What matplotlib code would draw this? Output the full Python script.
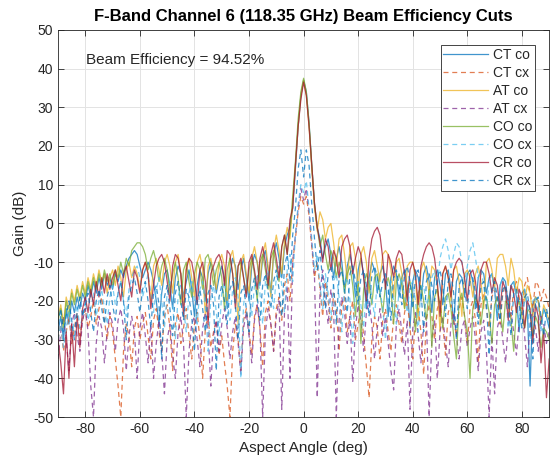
import numpy as np
import matplotlib
matplotlib.use("Agg")
import matplotlib.pyplot as plt

plt.rcParams['font.family'] = ['Liberation Sans', 'DejaVu Sans']
plt.rcParams['axes.unicode_minus'] = False

angles = list(range(-90, 91))

ct_co = [
    -28,-24,-30,-22,-26,-20,-23,-19,-22,-18,
    -20,-16,-19,-15,-18,-14,-17,-13,-16,-14,
    -17,-13,-15,-12,-14,-11,-9,-8,-7,-8,
    -11,-14,-12,-10,-12,-15,-20,-26,-18,-13,
    -12,-16,-22,-14,-11,-13,-19,-15,-12,-17,
    -24,-16,-12,-14,-20,-13,-10,-12,-18,-14,
    -11,-14,-22,-13,-9,-11,-17,-12,-9,-14,
    -20,-11,-8,-10,-16,-9,-7,-12,-18,-8,
    -5,-9,-14,-6,-3,-1,4,14,25,33,
    37,34,26,15,5,-1,-4,-9,-6,-4,
    -8,-14,-9,-6,-10,-17,-11,-8,-12,-19,
    -12,-9,-13,-22,-14,-10,-12,-18,-13,-11,
    -15,-24,-14,-11,-13,-19,-14,-12,-16,-27,
    -15,-12,-14,-20,-13,-11,-15,-23,-14,-12,
    -16,-21,-13,-12,-17,-26,-15,-13,-14,-19,
    -13,-12,-15,-22,-14,-12,-13,-18,-14,-13,
    -17,-25,-16,-14,-15,-21,-16,-15,-19,-28,
    -18,-17,-22,-42,-21,-19,-20,-26,-22,-24,
    -27]

ct_cx = [
    -30,-26,-33,-28,-24,-31,-27,-23,-29,-25,
    -22,-27,-24,-20,-26,-22,-19,-25,-30,-24,
    -28,-35,-42,-50,-33,-26,-29,-37,-27,-24,
    -30,-26,-23,-29,-35,-25,-22,-28,-33,-24,
    -21,-27,-38,-26,-23,-31,-27,-22,-29,-35,
    -26,-23,-30,-40,-27,-24,-32,-28,-25,-34,
    -29,-36,-42,-50,-33,-26,-30,-38,-25,-22,
    -28,-34,-24,-21,-27,-37,-23,-20,-26,-33,
    -22,-19,-25,-16,-13,-20,-10,-4,3,7,
    5,7,2,-6,-14,-10,-17,-24,-15,-20,
    -27,-18,-22,-33,-21,-19,-28,-24,-20,-30,
    -26,-22,-29,-37,-45,-30,-24,-27,-35,-25,
    -22,-28,-33,-24,-21,-26,-31,-23,-20,-27,
    -35,-24,-22,-28,-39,-25,-21,-24,-30,-22,
    -20,-26,-34,-23,-21,-25,-29,-22,-19,-24,
    -31,-22,-20,-25,-36,-21,-18,-22,-27,-19,
    -17,-21,-26,-18,-16,-20,-24,-17,-15,-19,
    -23,-16,-14,-18,-22,-15,-16,-20,-17,-19,
    -22]

at_co = [
    -24,-21,-26,-19,-22,-17,-20,-16,-19,-15,
    -18,-14,-17,-13,-16,-12,-15,-13,-18,-14,
    -12,-16,-11,-14,-19,-12,-10,-14,-11,-13,
    -17,-12,-10,-13,-20,-11,-9,-12,-16,-10,
    -8,-11,-18,-10,-8,-13,-21,-11,-9,-14,
    -19,-10,-8,-12,-24,-11,-9,-13,-17,-10,
    -8,-11,-20,-9,-7,-12,-26,-10,-8,-13,
    -18,-9,-6,-10,-15,-8,-5,-11,-19,-7,
    -3,-7,-13,-5,-1,-4,5,15,25,33,
    37,33,25,14,4,-2,3,1,-4,-1,
    0,-5,-11,-4,-3,-8,-15,-6,-5,-9,
    -17,-8,-6,-10,-18,-9,-7,-11,-15,-8,
    -7,-8,-12,-19,-10,-9,-13,-22,-11,-10,
    -10,-14,-25,-12,-10,-13,-18,-11,-12,-16,
    -28,-13,-11,-14,-20,-12,-11,-15,-24,-13,
    -12,-14,-19,-13,-11,-15,-22,-10,-9,-12,
    -17,-9,-8,-8,-11,-16,-9,-12,-18,-14,
    -15,-20,-16,-18,-24,-19,-20,-26,-21,-23,
    -25]

at_cx = [
    -35,-28,-24,-30,-38,-26,-23,-29,-33,-25,
    -22,-28,-42,-50,-31,-24,-27,-36,-28,-23,
    -26,-33,-25,-22,-27,-38,-29,-24,-28,-40,
    -27,-23,-29,-36,-26,-40,-31,-25,-33,-44,
    -30,-26,-34,-40,-28,-24,-31,-50,-33,-26,
    -24,-30,-37,-27,-23,-28,-42,-29,-25,-33,
    -26,-22,-27,-35,-28,-24,-31,-39,-27,-23,
    -29,-36,-25,-21,-27,-50,-28,-22,-26,-33,
    -24,-20,-48,-23,-16,-40,-10,-3,4,9,
    6,9,3,-5,-14,-45,-18,-12,-20,-26,
    -17,-22,-50,-25,-19,-23,-31,-24,-41,-27,
    -21,-25,-33,-23,-20,-26,-35,-27,-22,-29,
    -24,-31,-38,-43,-26,-22,-28,-34,-25,-48,
    -27,-23,-29,-36,-26,-24,-50,-30,-25,-40,
    -28,-24,-31,-37,-26,-23,-29,-35,-27,-25,
    -32,-27,-24,-30,-38,-28,-25,-33,-50,-29,
    -44,-27,-24,-30,-36,-26,-23,-28,-34,-25,
    -23,-29,-37,-26,-22,-27,-33,-24,-26,-31,
    -28]

co_co = [
    -25,-22,-27,-20,-24,-18,-21,-17,-20,-16,
    -19,-15,-18,-14,-17,-13,-16,-12,-15,-13,
    -16,-12,-14,-10,-13,-9,-11,-7,-6,-5,
    -5,-6,-8,-12,-9,-7,-10,-15,-11,-9,
    -12,-18,-13,-10,-14,-21,-12,-10,-15,-19,
    -13,-10,-12,-17,-9,-8,-11,-16,-12,-10,
    -14,-22,-12,-9,-13,-19,-11,-10,-14,-18,
    -12,-9,-13,-20,-10,-8,-12,-17,-9,-7,
    -11,-15,-6,-3,-8,-2,7,16,27,34,
    37.5,34,26,15,5,-1,-6,-3,-8,-12,
    -7,-9,-14,-10,-12,-18,-13,-11,-16,-24,
    -15,-31,-17,-13,-15,-21,-14,-13,-18,-23,
    -16,-14,-17,-26,-15,-13,-16,-22,-17,-15,
    -19,-28,-18,-16,-20,-25,-17,-32,-19,-17,
    -21,-27,-19,-18,-22,-29,-35,-20,-18,-24,
    -28,-40,-22,-19,-21,-26,-20,-19,-23,-31,
    -21,-19,-22,-28,-20,-21,-25,-33,-22,-20,
    -24,-27,-22,-23,-29,-24,-26,-32,-27,-28,
    -30]

co_cx = [
    -30,-26,-32,-27,-23,-29,-25,-21,-27,-24,
    -20,-25,-22,-18,-24,-20,-17,-22,-26,-19,
    -16,-21,-18,-15,-20,-24,-17,-14,-12,-11,
    -14,-19,-16,-13,-18,-23,-17,-14,-20,-27,
    -18,-15,-21,-30,-19,-16,-22,-28,-18,-15,
    -20,-26,-17,-15,-21,-33,-19,-16,-23,-29,
    -18,-15,-20,-25,-17,-14,-19,-40,-21,-16,
    -19,-24,-16,-13,-18,-26,-15,-12,-17,-22,
    -14,-11,-16,-23,-12,-8,-15,-3,5,10,
    8,11,4,-4,-12,-8,-16,-22,-13,-18,
    -25,-15,-13,-19,-28,-16,-14,-20,-31,-17,
    -15,-21,-27,-16,-14,-19,-24,-15,-17,-22,
    -30,-18,-15,-20,-26,-17,-14,-19,-23,-16,
    -15,-20,-28,-17,-16,-21,-19,-14,-12,-16,
    -9,-6,-4,-7,-12,-8,-5,-6,-10,-15,
    -11,-7,-5,-9,-14,-12,-16,-22,-15,-13,
    -17,-24,-16,-14,-18,-27,-17,-15,-19,-26,
    -18,-17,-21,-30,-20,-19,-23,-28,-22,-24,
    -26]

cr_co = [
    -30,-36,-44,-28,-40,-26,-37,-24,-32,-22,
    -19,-23,-17,-21,-15,-19,-14,-18,-13,-17,
    -14,-12,-16,-20,-13,-11,-15,-19,-12,-14,
    -18,-12,-10,-13,-22,-16,-11,-9,-8,-10,
    -15,-20,-11,-8,-9,-13,-24,-12,-9,-10,
    -14,-21,-12,-10,-15,-26,-13,-11,-9,-8,
    -10,-16,-7,-8,-13,-22,-11,-9,-14,-19,
    -10,-8,-12,-17,-9,-6,-10,-16,-8,-5,
    -9,-14,-6,-3,-8,1,4,15,25,32,
    36.5,33,25,15,5,-1,-5,-10,-4,-6,
    -12,-7,-9,-14,-6,-4,-3,-6,-13,-9,
    -6,-8,-14,-20,-9,-4,-2,-1,-3,-9,
    -17,-8,-10,-14,-9,-7,-8,-13,-20,-12,
    -10,-13,-21,-11,-8,-6,-5,-6,-9,-15,
    -24,-13,-11,-14,-19,-12,-10,-9,-10,-14,
    -20,-13,-12,-15,-23,-12,-10,-10,-13,-18,
    -14,-16,-22,-15,-17,-25,-16,-18,-23,-17,
    -19,-27,-20,-22,-31,-21,-24,-36,-28,-45,
    -35]

cr_cx = [
    -26,-22,-28,-24,-20,-25,-30,-23,-19,-24,
    -21,-18,-23,-28,-20,-17,-22,-26,-19,-16,
    -21,-25,-18,-15,-20,-30,-19,-16,-14,-18,
    -23,-17,-15,-20,-27,-18,-16,-21,-35,-19,
    -16,-22,-29,-18,-15,-20,-25,-17,-19,-24,
    -33,-20,-17,-22,-28,-18,-16,-21,-38,-19,
    -16,-20,-26,-17,-15,-21,-30,-18,-16,-22,
    -28,-17,-14,-19,-25,-16,-13,-18,-22,-15,
    -12,-17,-24,-11,-8,-15,-3,4,14,19,
    12,19,15,5,-4,-12,-7,-15,-22,-13,
    -11,-16,-26,-14,-12,-17,-23,-13,-11,-15,
    -21,-14,-12,-16,-24,-13,-11,-14,-19,-15,
    -13,-17,-25,-14,-12,-16,-21,-13,-11,-15,
    -22,-14,-12,-17,-28,-15,-13,-16,-20,-14,
    -12,-16,-24,-15,-13,-18,-30,-16,-14,-17,
    -22,-15,-14,-18,-26,-16,-15,-20,-34,-17,
    -15,-19,-25,-17,-16,-20,-29,-18,-17,-21,
    -27,-19,-18,-23,-35,-20,-19,-24,-29,-22,
    -25]

labels = ["CT co", "CT cx", "AT co", "AT cx", "CO co", "CO cx", "CR co", "CR cx"]
series = [ct_co, ct_cx, at_co, at_cx, co_co, co_cx, cr_co, cr_cx]
colors = ["#0072BD", "#D95319", "#EDB120", "#7E2F8E", "#77AC30", "#4DBEEE", "#A2142F", "#0072BD"]
styles = ["-", "--", "-", "--", "-", "--", "-", "--"]

title = "F-Band Channel 6 (118.35 GHz) Beam Efficiency Cuts"
annotation = "Beam Efficiency = 94.52%"

fig = plt.figure(figsize=(5.5, 4.66), dpi=100)
ax = fig.add_axes([0.1055, 0.105, 0.893, 0.831])

for y, lab, c, ls in zip(series, labels, colors, styles):
    ax.plot(angles, y, color=c, linestyle=ls, linewidth=0.9, alpha=0.75, label=lab,
            dashes=(4, 3) if ls == "--" else (None, None))

ax.set_xlim(-90, 90)
ax.set_ylim(-50, 50)
ax.set_xticks(range(-80, 81, 20))
ax.set_yticks(range(-50, 51, 10))
ax.grid(True, color="#e3e3e3", linewidth=0.7)
ax.set_axisbelow(True)
ax.tick_params(direction="in", top=True, right=True, labelsize=10, colors="#262626", length=4, width=0.6)
for s in ax.spines.values():
    s.set_color("#262626")
    s.set_linewidth(0.6)

ax.set_title(title, fontsize=12, fontweight="bold", pad=6)
ax.set_xlabel("Aspect Angle (deg)", fontsize=11, color="#262626")
ax.set_ylabel("Gain (dB)", fontsize=11, color="#262626")
ax.text(-79.7, 42.2, annotation, fontsize=11, va="center", ha="left", color="#262626")

leg = ax.legend(loc="upper right", bbox_to_anchor=(0.971, 0.961), borderaxespad=0,
                fontsize=10, handlelength=3.2, handletextpad=0.35, labelspacing=0.29,
                fancybox=False, framealpha=1, edgecolor="#262626", borderpad=0.2)
leg.get_frame().set_linewidth(0.6)
for t in leg.get_texts():
    t.set_color("#262626")

fig.savefig("out.png", dpi=100)
